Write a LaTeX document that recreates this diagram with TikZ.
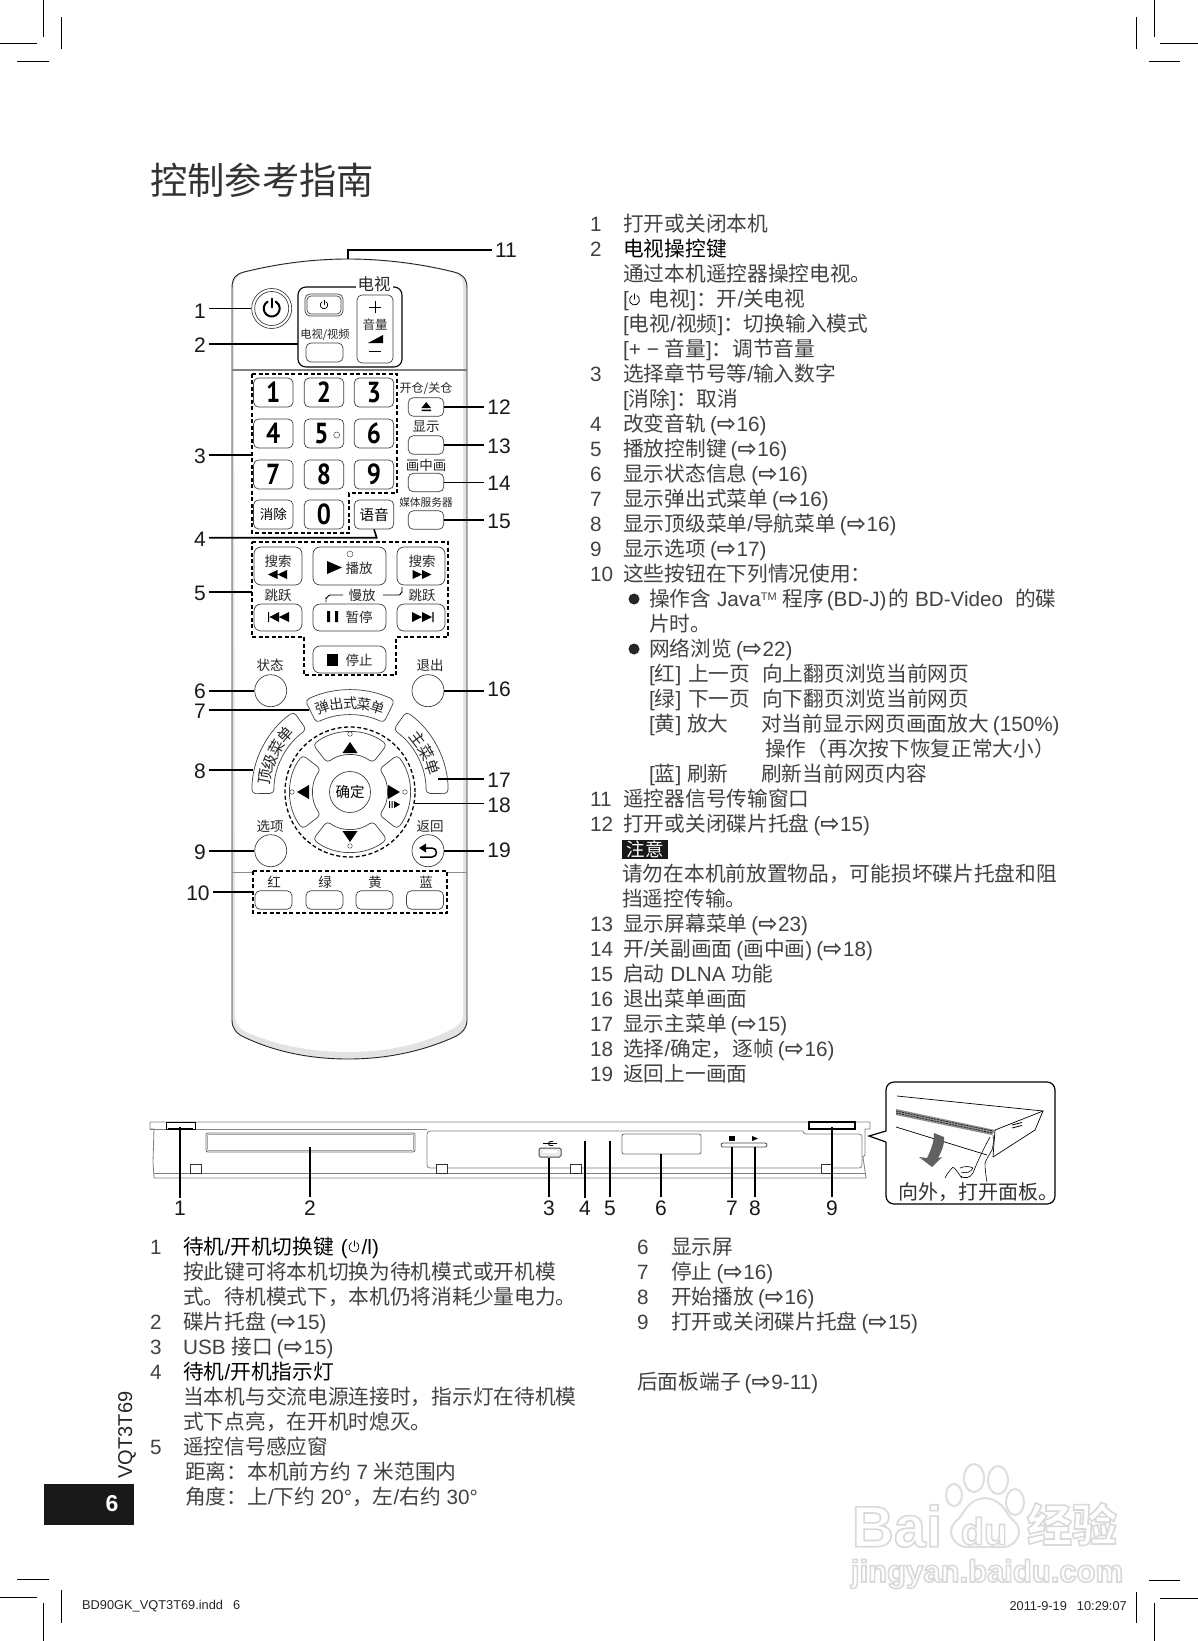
\documentclass[tikz,border=0pt]{standalone}
\usepackage{fontspec}
\setmainfont{Liberation Sans}
\newfontfamily\cjk{Noto Sans CJK SC}
\newfontfamily\arrowfont{DejaVu Sans}
\newfontfamily\ptfont{PT Sans}[FakeStretch=0.86]
\newcommand\cj[1]{{\cjk #1}}
\newcommand\fcol{\char"FF1A\relax}
\newcommand\fcom{\char"FF0C\relax}
\newcommand\flp{\char"FF08\relax}
\newcommand\frp{\char"FF09\relax}
\newcommand\xr[1]{\hspace{4pt}({\fontsize{23}{23}\arrowfont\bfseries\char"21E8}\hspace{.5pt}#1)}
\newcommand\hollow[1]{\special{pdf:code 1 Tr 1.6 w}#1\special{pdf:code 0 Tr 1 w}}
\tikzset{
 x=1pt,y=-1pt,
 lead/.style={line width=1.6pt,black},
 thinl/.style={line width=.8pt,black!50},
 rbtn/.style={draw=black!75,line width=.7pt,rounded corners=5pt,inner sep=0pt,fill=white},
 rcirc/.style={circle,draw=black!75,line width=.7pt,inner sep=0pt,minimum size=32pt,fill=white},
 tinydot/.style={circle,draw=black!70,line width=.5pt,inner sep=0pt,minimum size=5pt,fill=white},
 rtxt/.style={font=\fontsize{13.5}{15}\cjk,inner sep=0pt,text=black!85},
 arctxt/.style={font=\fontsize{14.5}{15}\cjk,inner sep=0pt,text=black!85},
 numkey/.style={rbtn,minimum width=39.5pt,minimum height=29pt,font=\fontsize{29}{29}\ptfont\bfseries},
 lab/.style={font=\fontsize{21}{22}\selectfont,inner sep=3pt,text=black!90},
 bodytxt/.style={anchor=base west,inner sep=0pt,font=\fontsize{20.7}{25}\selectfont,text=black!74},
 dbox/.style={line width=1.3pt,dash pattern=on 4pt off 2.5pt,black},
 wmtxt/.style={inner sep=0pt,text=black!15},
 crop/.style={line width=.9pt,black},
}
\newcommand\bl[4]{\node[bodytxt] (#1) at (#2,231+25*#3) {#4};}
\newcommand\bb[4]{\node[bodytxt] (#1) at (#2,1254+25*#3) {#4};}
\newcommand\powicon[4]{\begin{scope}[shift={(#1,#2)},x=1pt,y=1pt]
 \draw[line width=#4,line cap=round] (120:#3) arc[start angle=120,end angle=420,radius=#3];
 \draw[line width=#4,line cap=round] (0,#3*0.15) -- (0,#3*1.25);
\end{scope}}
\begin{document}
\begin{tikzpicture}
\useasboundingbox (0,0) rectangle (1198,1641);
\fill[white] (0,0) rectangle (1198,1641);

% crop marks
\draw[crop] (43,0)--(43,37) (61,17)--(61,49) (0,43)--(37,43) (17,61)--(49,61);
\draw[crop] (1154,0)--(1154,37) (1136,17)--(1136,49) (1160,43)--(1198,43) (1149,61)--(1180,61);
\draw[crop] (17,1579)--(49,1579) (0,1597)--(37,1597) (61,1590)--(61,1623) (43,1603)--(43,1641);
\draw[crop] (1149,1580)--(1180,1580) (1160,1598)--(1198,1598) (1136,1592)--(1136,1623) (1154,1603)--(1154,1641);

% title
\node[anchor=west,inner sep=0pt,font=\fontsize{37.3}{40}\cjk,text=black!80] (title) at (150,180) {控制参考指南};

%% ---------- remote ----------
\fill[black!11] (232,288) .. controls (232,278) and (236,274) .. (244,272)
  .. controls (280,263) and (315,259) .. (348,259) .. controls (381,259) and (418,263) .. (454,272)
  .. controls (462,274) and (467,278) .. (467,288) -- (467,1020)
  .. controls (467,1028) and (462,1034) .. (452,1038) .. controls (420,1052) and (385,1059) .. (348,1059)
  .. controls (311,1059) and (276,1052) .. (246,1038) .. controls (236,1034) and (232,1028) .. (232,1020) -- cycle;
\fill[white] (234,288) .. controls (234,278) and (238,275) .. (244,273)
  .. controls (280,264) and (315,260) .. (348,260) .. controls (381,260) and (418,264) .. (454,273)
  .. controls (460,275) and (463,278) .. (463,288) -- (463,1016)
  .. controls (463,1022) and (458,1026) .. (450,1030) .. controls (420,1045) and (385,1052) .. (348,1052)
  .. controls (311,1052) and (276,1045) .. (246,1032) .. controls (238,1028) and (235,1022) .. (235,1016) -- cycle;
\draw[line width=.9pt,black!85] (232,288) .. controls (232,278) and (236,274) .. (244,272)
  .. controls (280,263) and (315,259) .. (348,259) .. controls (381,259) and (418,263) .. (454,272)
  .. controls (462,274) and (467,278) .. (467,288) -- (467,1020)
  .. controls (467,1028) and (462,1034) .. (452,1038) .. controls (420,1052) and (385,1059) .. (348,1059)
  .. controls (311,1059) and (276,1052) .. (246,1038) .. controls (236,1034) and (232,1028) .. (232,1020) -- cycle;
\coordinate (rtop) at (348,259);
\draw[line width=1.5pt,black!50] (232,370)--(467,370);
\draw[line width=1pt,black!45] (232,872)--(253,872) (447,872)--(467,872);

% power + TV group
\node[rcirc,minimum size=40pt] (pw) at (271.7,308.5) {};
\node[rcirc,minimum size=34pt] (pwin) at (271.7,308.5) {};
\powicon{271.7}{308.5}{8}{2pt}
\node[rbtn,rounded corners=8pt,line width=1.1pt,draw=black,minimum width=104pt,minimum height=80pt] (tvgrp) at (350,327) {};
\node[rtxt,font=\fontsize{16.5}{17}\cjk,fill=white,inner xsep=2pt] (tvlab) at (374,284) {电视};
\node[rbtn,minimum width=38pt,minimum height=22pt] (tvp) at (324,305) {};
\node[rbtn,rounded corners=4pt,minimum width=34pt,minimum height=18pt] (tvpin) at (324,305) {};
\powicon{324}{305}{3.8}{.7pt}
\node[rtxt,font=\fontsize{11.2}{12}\cjk] (tvvlab) at (325,335) {电视/视频};
\node[rbtn,minimum width=37pt,minimum height=19pt] (tvv) at (324.5,352.5) {};
\node[rbtn,minimum width=36pt,minimum height=68pt] (vol) at (375,329) {};
\draw[line width=.7pt] (369,307)--(381,307) (375,301)--(375,313);
\node[rtxt,font=\fontsize{12.5}{13}\cjk] (vollab) at (375,325) {音量};
\fill (368,343)--(383,343)--(383,335)--cycle;
\draw[line width=.7pt] (369,351)--(381,351);
\coordinate (c2) at (298,344);

% numeric block
\draw[dbox] (252,374)--(397,374)--(397,493)--(349,493)--(349,533)--(252,533)--cycle;
\coordinate (box3w) at (252,455);
\node[numkey] (k1) at (273.3,392.5) {1};
\node[numkey] (k2) at (324,392.5) {2};
\node[numkey] (k3) at (374,392.5) {3};
\node[numkey] (k4) at (273.3,433.5) {4};
\node[numkey] (k5) at (324,433.5) {\hspace{-5pt}5};
\node[numkey] (k6) at (374,433.5) {6};
\node[numkey] (k7) at (273.3,474.5) {7};
\node[numkey] (k8) at (324,474.5) {8};
\node[numkey] (k9) at (374,474.5) {9};
\node[numkey,font=\fontsize{13.5}{14}\cjk] (kc) at (273.3,514.5) {消除};
\node[numkey] (k0) at (324,514.5) {0};
\node[numkey,font=\fontsize{14.5}{15}\cjk] (kv) at (374,514.5) {语音};
\node[tinydot,minimum size=6pt] (dot5) at (336.7,435) {};
\coordinate (c4) at (376.7,537.7);

% right column
\node[rtxt,font=\fontsize{12}{13}\cjk] (t12) at (426,389) {开仓/关仓};
\node[rbtn,minimum width=35.5pt,minimum height=18.5pt] (b12) at (426,407) {};
\fill (421.5,408)--(431,408)--(426.2,402)--cycle (421.5,409.5) rectangle (431,411);
\node[rtxt] (t13) at (426,427) {显示};
\node[rbtn,minimum width=35.5pt,minimum height=18.5pt] (b13) at (426,445) {};
\node[rtxt] (t14) at (426,465) {画中画};
\node[rbtn,minimum width=35.5pt,minimum height=18.5pt] (b14) at (426,482.5) {};
\node[rtxt,font=\fontsize{10.7}{12}\cjk] (t15) at (426,502) {媒体服务器};
\node[rbtn,minimum width=35.5pt,minimum height=18.5pt] (b15) at (426,520) {};

% transport block
\draw[dbox] (252,542)--(448,542)--(448,637)--(396,637)--(396,675)--(304,675)--(304,637)--(252,637)--cycle;
\coordinate (box5w) at (252,592);
\node[rbtn,rounded corners=7pt,minimum width=48pt,minimum height=38pt] (srl) at (278,566) {};
\node[rtxt] (srlt) at (278,561) {搜索};
\fill (268,574.5)--(277.5,570)--(277.5,579)--cycle (277.5,574.5)--(287,570)--(287,579)--cycle;
\node[rbtn,rounded corners=7pt,minimum width=73pt,minimum height=38pt] (play) at (349.5,566) {};
\node[tinydot,minimum size=6pt] (playd) at (350,554) {};
\fill (327,561)--(342,567.5)--(327,574)--cycle;
\node[rtxt] (playt) at (359,568) {播放};
\node[rbtn,rounded corners=7pt,minimum width=48pt,minimum height=38pt] (srr) at (421,566) {};
\node[rtxt] (srrt) at (422,561) {搜索};
\fill (412.5,570)--(422,574.5)--(412.5,579)--cycle (422,570)--(431.5,574.5)--(422,579)--cycle;
\node[rtxt] (sk1) at (278,595) {跳跃};
\node[rtxt] (sk2) at (422,595) {跳跃};
\node[rtxt] (slow) at (362,595) {慢放};
\draw[line width=.9pt] (326,602)--(326,598) to[out=-90,in=180] (330,595)--(343,595);
\draw[line width=.9pt] (383,595)--(399,595) to[out=0,in=90] (402,592)--(402,587);
\node[rbtn,rounded corners=7pt,minimum width=48pt,minimum height=27pt] (skl) at (278,617.5) {};
\fill (268,612)rectangle(269.2,622) (269.5,617)--(279,612)--(279,622)--cycle (279,617)--(289,612)--(289,622)--cycle;
\node[rbtn,rounded corners=7pt,minimum width=73pt,minimum height=27pt] (pause) at (349.5,617.5) {};
\fill (327,611)rectangle(330,622) (335,611)rectangle(338,622);
\node[rtxt] (pauset) at (359,617) {暂停};
\node[rbtn,rounded corners=7pt,minimum width=48pt,minimum height=27pt] (skr) at (421,617.5) {};
\fill (412,612)--(422,617)--(412,622)--cycle (422,612)--(432,617)--(422,622)--cycle (432.4,612)rectangle(433.6,622);
\node[rbtn,rounded corners=7pt,minimum width=73pt,minimum height=27pt] (stop) at (349.5,659.5) {};
\fill (327,654)rectangle(338,666);
\node[rtxt] (stopt) at (359,660) {停止};

% round buttons
\node[rtxt] (t6) at (270,665) {状态};
\node[rcirc] (b6) at (270.7,690.7) {};
\node[rtxt] (t16) at (430,665) {退出};
\node[rcirc] (b16) at (428,690.7) {};
\node[rtxt] (t9) at (270,826) {选项};
\node[rcirc] (b9) at (270.7,850.7) {};
\node[rtxt] (t19) at (430,826) {返回};
\node[rcirc] (b19) at (428,850.7) {};
\fill (419,848)--(426,843.5)--(426,852.5)--cycle;
\draw[line width=1.5pt] (426,848)--(432,848) .. controls (438,848) and (438,857) .. (432,857)--(420,857);

% navigation cluster
\node[circle,dbox,draw,minimum size=130pt,inner sep=0pt] (navring) at (350,792) {};
\begin{scope}[shift={(350,792)},x=1pt,y=1pt]
  \draw[line width=.7pt,black!75,rounded corners=4pt,fill=white]
     (116:102) arc[start angle=116,end angle=64,radius=102] -- (64:77) arc[start angle=64,end angle=116,radius=77] -- cycle;
  \draw[line width=.7pt,black!75,rounded corners=4pt,fill=white]
     (181:98) arc[start angle=181,end angle=125,radius=98] -- (125:76) arc[start angle=125,end angle=181,radius=76] -- cycle;
  \draw[line width=.7pt,black!75,rounded corners=4pt,fill=white]
     (-1:98) arc[start angle=-1,end angle=55,radius=98] -- (55:76) arc[start angle=55,end angle=-1,radius=76] -- cycle;
  \foreach \a in {0,90,180,270}{
    \begin{scope}[rotate=\a]
    \draw[line width=.7pt,black!75,rounded corners=4pt]
      (128:60) arc[start angle=128,end angle=52,radius=60] -- (52:37) arc[start angle=52,end angle=128,radius=37] -- cycle;
    \end{scope}}
  \foreach \ch/\ang [count=\i] in {弹/108,出/99,式/90,菜/81,单/72}
    \node[arctxt,font=\fontsize{14}{15}\cjk,rotate=\ang-90] (pop\i) at (\ang:89) {\ch};
  \foreach \ch/\ang [count=\i] in {顶/170,级/159.5,菜/149,单/138.5}
    \node[arctxt,font=\fontsize{15.5}{16}\cjk,rotate=\ang-90] (top\i) at (\ang:86) {\ch};
  \foreach \ch/\ang [count=\i] in {主/38,菜/27.5,单/17}
    \node[arctxt,font=\fontsize{15.5}{16}\cjk,rotate=\ang-90] (mn\i) at (\ang:86) {\ch};
  \fill (-7.5,39)--(7.5,39)--(0,50)--cycle;
  \fill (-7.5,-39)--(7.5,-39)--(0,-50)--cycle;
  \fill (-41,7)--(-41,-7)--(-53,0)--cycle;
  \fill (38,7)--(38,-7)--(50,0)--cycle;
  \node[tinydot,minimum size=4.5pt] (nd1) at (0,58) {};
  \node[tinydot,minimum size=4.5pt] (nd2) at (0,-54) {};
  \node[tinydot,minimum size=4.5pt] (nd3) at (-58,0) {};
  \node[tinydot,minimum size=4.5pt] (nd4) at (55,0) {};
  \fill (39,-9)rectangle(40,-16) (41.5,-9)rectangle(42.5,-16) (44,-9)--(50,-12.5)--(44,-16)--cycle;
\end{scope}
\node[circle,draw=black!75,line width=.7pt,minimum size=41pt,inner sep=0pt,font=\fontsize{14.5}{15}\cjk] (ok) at (350,792) {确定};
\coordinate (c7) at (309,710);
\coordinate (c8) at (253,770);
\coordinate (c17) at (438,779);

% colour keys
\draw[dbox] (253,871)--(447,871)--(447,913)--(253,913)--cycle;
\coordinate (box10w) at (253,892);
\node[rtxt] (cr) at (274,882) {红};
\node[rtxt] (cg) at (325,882) {绿};
\node[rtxt] (cy) at (375,882) {黄};
\node[rtxt] (cb) at (426,882) {蓝};
\node[rbtn,minimum width=37pt,minimum height=18.5pt] (kr) at (273.5,900) {};
\node[rbtn,minimum width=37pt,minimum height=18.5pt] (kg) at (324.5,900) {};
\node[rbtn,minimum width=37pt,minimum height=18.5pt] (ky) at (374.5,900) {};
\node[rbtn,minimum width=37pt,minimum height=18.5pt] (kb) at (425,900) {};

% labels and leaders, left
\node[lab] (l1) at (200,311) {1};
\node[lab] (l2) at (200,345) {2};
\node[lab] (l3) at (200,456) {3};
\node[lab] (l4) at (200,539) {4};
\node[lab] (l5) at (200,593.5) {5};
\node[lab] (l6) at (200,691) {6};
\node[lab] (l7) at (200,711) {7};
\node[lab] (l8) at (200,771) {8};
\node[lab] (l9) at (200,852) {9};
\node[lab] (l10) at (198,893) {10};
\draw[lead] (pw.west -| l1.east)--(pw.west);
\draw[lead] (c2 -| l2.east)--(c2);
\draw[lead] (box3w -| l3.east)--(box3w);
\draw[lead] (c4 -| l4.east)--(c4)--(kv.south);
\draw[lead] (box5w -| l5.east)--(box5w);
\draw[lead] (b6.west -| l6.east)--(b6.west);
\draw[lead] (c7 -| l7.east)--(c7);
\draw[lead] (c8 -| l8.east)--(c8);
\draw[lead] (b9.west -| l9.east)--(b9.west);
\draw[lead] (box10w -| l10.east)--(box10w);
% labels and leaders, right
\node[lab] (l11) at (506,250) {11};
\node[lab] (l12) at (499,407) {12};
\node[lab] (l13) at (499,446) {13};
\node[lab] (l14) at (499,483) {14};
\node[lab] (l15) at (499,521) {15};
\node[lab] (l16) at (499,689) {16};
\node[lab] (l17) at (499,780) {17};
\node[lab] (l18) at (499,805) {18};
\node[lab] (l19) at (499,850) {19};
\draw[lead] (l11.west)--(l11.west -| rtop)--(rtop);
\draw[lead] (b12.east)--(b12.east -| l12.west);
\draw[lead] (b13.east)--(b13.east -| l13.west);
\draw[lead] (b14.east)--(b14.east -| l14.west);
\draw[lead] (b15.east)--(b15.east -| l15.west);
\draw[lead] (b16.east)--(b16.east -| l16.west);
\draw[lead] (c17)--(c17 -| l17.west);
\draw[lead] (navring.-10)--(navring.-10 -| l18.west);
\draw[lead] (b19.east)--(b19.east -| l19.west);

%% ---------- right text column ----------
\bl{n0}{590}{0}{1}    \bl{s0}{623}{0}{\cj{打开或关闭本机}}
\bl{n1}{590}{1}{2}    \bl{s1}{623}{1}{\color{black}\cj{电视操控键}}
\bl{s2}{623}{2}{\cj{通过本机遥控器操控电视。}}
\bl{s3}{623}{3}{[\hspace{20pt}\cj{电视}]\cj{\fcol 开}/\cj{关电视}}
\powicon{634.5}{300}{5}{.8pt}
\bl{s4}{623}{4}{[\cj{电视}/\cj{视频}]\cj{\fcol 切换输入模式}}
\bl{s5}{623}{5}{[+ − \cj{音量}]\cj{\fcol 调节音量}}
\bl{n6}{590}{6}{3}    \bl{s6}{623}{6}{\cj{选择章节号等}/\cj{输入数字}}
\bl{s7}{623}{7}{[\cj{消除}]\cj{\fcol 取消}}
\bl{n8}{590}{8}{4}    \bl{s8}{623}{8}{\cj{改变音轨}\xr{16}}
\bl{n9}{590}{9}{5}    \bl{s9}{623}{9}{\cj{播放控制键}\xr{16}}
\bl{n10}{590}{10}{6}  \bl{s10}{623}{10}{\cj{显示状态信息}\xr{16}}
\bl{n11}{590}{11}{7}  \bl{s11}{623}{11}{\cj{显示弹出式菜单}\xr{16}}
\bl{n12}{590}{12}{8}  \bl{s12}{623}{12}{\cj{显示顶级菜单}/\cj{导航菜单}\xr{16}}
\bl{n13}{590}{13}{9}  \bl{s13}{623}{13}{\cj{显示选项}\xr{17}}
\bl{n14}{590}{14}{10} \bl{s14}{623}{14}{\cj{这些按钮在下列情况使用\fcol}}
\node[circle,fill=black!85,minimum size=11pt,inner sep=0pt] (bu1) at (634,599) {};
\bl{s15}{649}{15}{\cj{操作含} Java\raisebox{6pt}{\fontsize{11}{11}\selectfont TM} \cj{程序}\hspace{3pt}(BD-J)\hspace{2pt}\cj{的} BD-Video\hspace{12pt}\cj{的碟}}
\bl{s16}{649}{16}{\cj{片时。}}
\node[circle,fill=black!85,minimum size=11pt,inner sep=0pt] (bu2) at (634,649) {};
\bl{s17}{649}{17}{\cj{网络浏览}\xr{22}}
\bl{s18}{649}{18}{[\cj{红}]}  \bl{s18b}{688}{18}{\cj{上一页}}  \bl{s18c}{762}{18}{\cj{向上翻页浏览当前网页}}
\bl{s19}{649}{19}{[\cj{绿}]}  \bl{s19b}{688}{19}{\cj{下一页}}  \bl{s19c}{762}{19}{\cj{向下翻页浏览当前网页}}
\bl{s20}{649}{20}{[\cj{黄}]}  \bl{s20b}{687}{20}{\cj{放大}}    \bl{s20c}{761}{20}{\cj{对当前显示网页画面放大}\hspace{4pt}(150\%)}
\bl{s21}{765}{21}{\cj{操作\flp 再次按下恢复正常大小\frp}}
\bl{s22}{649}{22}{[\cj{蓝}]}  \bl{s22b}{687}{22}{\cj{刷新}}    \bl{s22c}{761}{22}{\cj{刷新当前网页内容}}
\bl{n23}{590}{23}{11} \bl{s23}{623}{23}{\cj{遥控器信号传输窗口}}
\bl{n24}{590}{24}{12} \bl{s24}{623}{24}{\cj{打开或关闭碟片托盘}\xr{15}}
\node[fill=black!90,text=white,minimum width=46pt,minimum height=19pt,inner sep=0pt,font=\fontsize{18.5}{19}\cjk] (warn) at (645,849) {注意};
\bl{s26}{622}{26}{\cj{请勿在本机前放置物品\fcom 可能损坏碟片托盘和阻}}
\bl{s27}{622}{27}{\cj{挡遥控传输。}}
\bl{n28}{590}{28}{13} \bl{s28}{623}{28}{\cj{显示屏幕菜单}\xr{23}}
\bl{n29}{590}{29}{14} \bl{s29}{623}{29}{\cj{开}/\cj{关副画面}\hspace{4pt}(\cj{画中画})\xr{18}}
\bl{n30}{590}{30}{15} \bl{s30}{623}{30}{\cj{启动} DLNA \cj{功能}}
\bl{n31}{590}{31}{16} \bl{s31}{623}{31}{\cj{退出菜单画面}}
\bl{n32}{590}{32}{17} \bl{s32}{623}{32}{\cj{显示主菜单}\xr{15}}
\bl{n33}{590}{33}{18} \bl{s33}{623}{33}{\cj{选择}/\cj{确定\fcom 逐帧}\xr{16}}
\bl{n34}{590}{34}{19} \bl{s34}{623}{34}{\cj{返回上一画面}}

%% ---------- player ----------
\draw[thinl] (150,1122)--(870,1122)--(870,1129)--(865,1129)--(865,1155)--(863,1157)--(866,1178)--(154,1178)--(153,1162)--(154,1129)--(150,1129)--cycle;
\draw[thinl] (150,1129)--(427,1129) (154,1173)--(866,1173);
\node[draw=black!55,line width=.9pt,rounded corners=2pt,minimum width=209pt,minimum height=19pt,inner sep=0pt] (tray) at (310.5,1142.5) {};
\node[draw=black!35,line width=.6pt,rounded corners=1pt,minimum width=206pt,minimum height=16pt,inner sep=0pt] (trayin) at (310.5,1142.5) {};
\draw[thinl,rounded corners=3pt] (803,1131)--(427,1131)--(427,1168)--(862,1168)--(862,1134)--(803,1134)--(803,1131);
\foreach \fx [count=\i] in {195.5,442,576,827}
  \node[draw=black!80,line width=.8pt,fill=white,minimum width=11pt,minimum height=9pt,inner sep=0pt] (foot\i) at (\fx,1168.5) {};
\node[draw=black,line width=1pt,minimum width=29pt,minimum height=7pt,inner sep=0pt,fill=white] (p1) at (180.5,1125.5) {};
\draw[line width=1.6pt] (168,1129)--(193,1129);
\node[draw=black,line width=1.3pt,minimum width=46pt,minimum height=7pt,inner sep=0pt,fill=white] (p9) at (832,1125.5) {};
\node[draw=black!70,line width=1pt,rounded corners=1.5pt,fill=black!8,minimum width=22pt,minimum height=9pt,inner sep=0pt] (usb) at (550,1152.5) {};
\fill[white] (543,1150) rectangle (557,1153);
\draw[line width=.7pt] (543,1143.5)--(557,1143.5) (548,1143.5)--(550,1141.5)--(553,1141.5) (548,1143.5)--(550,1145.5)--(553,1145.5);
\node[draw=black!55,line width=.8pt,rounded corners=2pt,minimum width=79pt,minimum height=20pt,inner sep=0pt] (disp) at (661.5,1144) {};
\node[draw=black!70,line width=.8pt,rounded corners=2pt,minimum width=46pt,minimum height=4pt,inner sep=0pt] (bar) at (744,1145) {};
\fill (729,1136) rectangle (734.5,1141);
\fill (752,1136)--(758,1138.5)--(752,1141)--cycle;
\coordinate (a4) at (585,1141);
\coordinate (a5) at (610,1141);
\coordinate (a2) at (310,1147);
\coordinate (a7) at (732,1147);
\coordinate (a8) at (755,1147);
\coordinate (a1) at (180,1127);
\coordinate (a9) at (832,1127);
\node[lab] (d1) at (180,1208) {1};
\node[lab] (d2) at (310,1208) {2};
\node[lab] (d3) at (549,1208) {3};
\node[lab] (d4) at (585,1208) {4};
\node[lab] (d5) at (610,1208) {5};
\node[lab] (d6) at (661,1208) {6};
\node[lab] (d7) at (732,1208) {7};
\node[lab] (d8) at (755,1208) {8};
\node[lab] (d9) at (832,1208) {9};
\draw[lead] (d1.north)--(a1);
\draw[lead] (d2.north)--(a2);
\draw[lead] (d3.north)--(d3.north |- usb.south);
\draw[lead] (d4.north)--(a4);
\draw[lead] (d5.north)--(a5);
\draw[lead] (d6.north)--(d6.north |- disp.south);
\draw[lead] (d7.north)--(a7);
\draw[lead] (d8.north)--(a8);
\draw[lead] (d9.north)--(a9);

% callout
\draw[line width=1.2pt,rounded corners=8pt,fill=white] (886,1131)--(886,1082)--(1055,1082)--(1055,1204)--(886,1204)--(886,1142);
\draw[line width=1.2pt,fill=white] (886,1131)--(869,1136)--(886,1142);
\draw[line width=.7pt] (897,1096)--(1043,1111)--(1035,1130)--(993,1157);
\draw[line width=.7pt] (995,1130)--(1043,1111);
\fill[black!45] (896,1109)--(995,1130)--(992,1135)--(896,1115)--cycle;
\draw[line width=.5pt,black,dash pattern=on 2pt off 1pt] (896,1111)--(993,1131) (896,1113)--(992,1133);
\draw[line width=.7pt] (995,1130)--(993,1157) (896,1127)--(987,1155);
\draw[line width=.8pt] (1012,1125)--(1022,1122.5) (1012,1128)--(1022,1125.5);
\fill[black!62] (934,1133)--(944,1137) .. controls (945,1145) and (941,1152) .. (938,1158)--(942,1157)--(932,1167)--(919,1157)--(927,1158) .. controls (931,1150) and (934,1142) .. cycle;
\draw[line width=.6pt] (990,1137) .. controls (984,1148) and (978,1160) .. (973,1173) .. controls (970,1178) and (965,1179) .. (960,1176) (953,1167) .. controls (950,1170) and (947,1174) .. (945,1178) (953,1167) .. controls (957,1170) and (959,1175) .. (962,1178) (960,1168) .. controls (965,1166) and (969,1166) .. (973,1168) .. controls (971,1172) and (966,1174) .. (961,1172);
\draw[line width=.6pt] (993,1135) .. controls (994,1142) and (993,1146) .. (992,1150) .. controls (989,1155) and (986,1160) .. (985,1163) .. controls (985,1170) and (986,1176) .. (987,1182);
\node[anchor=west,inner sep=0pt,font=\fontsize{20}{22}\cjk,text=black!80] (opent) at (898,1192) {向外\fcom 打开面板。};

%% ---------- lower text ----------
\bb{m0}{150}{0}{1} \bb{t0}{183}{0}{\color{black}\cj{待机}/\cj{开机切换键}\hspace{7pt}(\hspace{14pt}/l)}
\powicon{354}{1247}{5}{.7pt}
\bb{t1}{183}{1}{\cj{按此键可将本机切换为待机模式或开机模}}
\bb{t2}{183}{2}{\cj{式。待机模式下\fcom 本机仍将消耗少量电力。}}
\bb{m3}{150}{3}{2} \bb{t3}{183}{3}{\cj{碟片托盘}\xr{15}}
\bb{m4}{150}{4}{3} \bb{t4}{183}{4}{USB \cj{接口}\xr{15}}
\bb{m5}{150}{5}{4} \bb{t5}{183}{5}{\color{black}\cj{待机}/\cj{开机指示灯}}
\bb{t6}{183}{6}{\cj{当本机与交流电源连接时\fcom 指示灯在待机模}}
\bb{t7}{183}{7}{\cj{式下点亮\fcom 在开机时熄灭。}}
\bb{m8}{150}{8}{5} \bb{t8}{183}{8}{\cj{遥控信号感应窗}}
\bb{t9}{185}{9}{\cj{距离\fcol 本机前方约} 7 \cj{米范围内}}
\bb{t10}{185}{10}{\cj{角度\fcol 上}/\cj{下约} 20°\cj{\fcom 左}/\cj{右约} 30°}
\bb{m20}{637}{0}{6} \bb{u0}{671}{0}{\cj{显示屏}}
\bb{m21}{637}{1}{7} \bb{u1}{671}{1}{\cj{停止}\xr{16}}
\bb{m22}{637}{2}{8} \bb{u2}{671}{2}{\cj{开始播放}\xr{16}}
\bb{m23}{637}{3}{9} \bb{u3}{671}{3}{\cj{打开或关闭碟片托盘}\xr{15}}
\bb{u5}{637}{5.4}{\cj{后面板端子}\xr{9-11}}

% page tab
\node[fill=black!90,minimum width=90pt,minimum height=41pt,inner sep=0pt] (tab) at (89,1504.5) {};
\node[text=white,inner sep=0pt,font=\fontsize{23}{24}\bfseries] (pg) at (112,1504) {6};
\node[rotate=90,inner sep=0pt,font=\fontsize{20}{21}\selectfont,text=black!85] (vqt) at (127,1435) {VQT3T69};

% footer
\node[inner sep=0pt,anchor=west,font=\fontsize{12.8}{14}\selectfont,text=black!85] (ft1) at (82,1606) {BD90GK\_VQT3T69.indd\hspace{10pt}6};
\node[inner sep=0pt,anchor=east,font=\fontsize{12.8}{14}\selectfont,text=black!85] (ft2) at (1127,1606) {2011-9-19\hspace{10pt}10:29:07};

% watermark
\draw[black!13,line width=2pt,fill=white] (954,1495) ellipse[x radius=8,y radius=11] (974,1478) ellipse[x radius=10,y radius=14] (998,1480) ellipse[x radius=10,y radius=14] (1015,1502) ellipse[x radius=9,y radius=13];
\draw[black!13,line width=2pt,fill=white] (985,1498) .. controls (965,1500) and (965,1515) .. (955,1522) .. controls (945,1532) and (955,1549) .. (970,1547) -- (1000,1547) .. controls (1015,1549) and (1025,1532) .. (1015,1522) .. controls (1005,1515) and (1005,1500) .. (985,1498) -- cycle;
\node[wmtxt,font=\fontsize{58}{60}\bfseries] (wa) at (897,1526) {\hollow{Bai}};
\node[wmtxt,font=\fontsize{38}{40}\bfseries] (wb) at (984,1531) {\hollow{du}};
\node[wmtxt,font=\fontsize{45}{47}\cjk\bfseries] (wc) at (1072,1524) {\hollow{经验}};
\node[wmtxt,font=\fontsize{31}{33}\bfseries] (wd) at (987,1574) {\hollow{jingyan.baidu.com}};
\end{tikzpicture}
\end{document}
